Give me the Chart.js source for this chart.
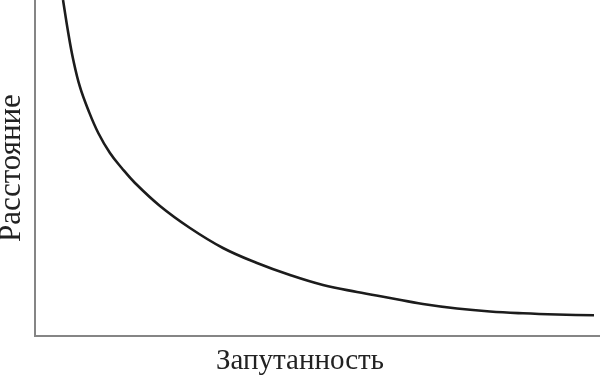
<!DOCTYPE html>
<html>
<head>
<meta charset="utf-8">
<script src="https://cdn.jsdelivr.net/npm/chart.js@4.4.1/dist/chart.umd.min.js"></script>
<style>
  html, body { margin: 0; padding: 0; background: #ffffff; }
  #wrap { width: 600px; height: 379px; }
</style>
</head>
<body>
<div id="wrap"><canvas id="c" width="600" height="379"></canvas></div>
<script>
// Data (arbitrary units 0..100 on both axes)
const xLabel = 'Запутанность';
const yLabel = 'Расстояние';
const entanglement = [4.96, 5.89, 6.78, 7.96, 9.43, 11.2, 13.27, 15.35, 17.7, 22.12, 27.43, 33.27, 39.29, 45.13, 50.97, 56.99, 62.83, 68.67, 74.69, 80.53, 86.37, 92.39, 98.94];
const distance     = [100, 90.18, 82.14, 74.11, 67.26, 60.42, 54.46, 50.0, 45.54, 38.69, 32.14, 26.19, 21.73, 18.15, 15.18, 13.1, 11.31, 9.52, 8.18, 7.29, 6.76, 6.40, 6.16];

const points = entanglement.map((x, i) => ({ x: x, y: distance[i] }));

const serif = '"Liberation Serif", "Times New Roman", "DejaVu Serif", serif';

new Chart(document.getElementById('c'), {
  type: 'line',
  data: {
    datasets: [{
      data: points,
      borderColor: '#1c1c1c',
      borderWidth: 2.6,
      pointRadius: 0,
      fill: false,
      tension: 0.4
    }]
  },
  options: {
    responsive: false,
    animation: false,
    devicePixelRatio: 1,
    layout: { padding: 0 },
    plugins: {
      legend: { display: false },
      tooltip: { enabled: false },
      title: {
        display: true,
        position: 'bottom',
        text: xLabel,
        color: '#222222',
        font: { family: serif, size: 29, weight: 'normal', lineHeight: 1.2 },
        padding: { top: 7.6, bottom: 0.6 }
      }
    },
    scales: {
      x: {
        type: 'linear',
        min: 0,
        max: 100,
        ticks: { display: false },
        grid: { display: false, drawTicks: false },
        border: { display: true, color: '#858585', width: 2 },
        title: { display: false }
      },
      y: {
        type: 'linear',
        min: 0,
        max: 100,
        ticks: { display: false },
        grid: { display: false, drawTicks: false },
        border: { display: true, color: '#858585', width: 2 },
        title: {
          display: true,
          text: yLabel,
          color: '#222222',
          font: { family: serif, size: 31, weight: 'normal', lineHeight: 0.774 },
          padding: { top: 0, bottom: 11 }
        }
      }
    }
  }
});
</script>
</body>
</html>
